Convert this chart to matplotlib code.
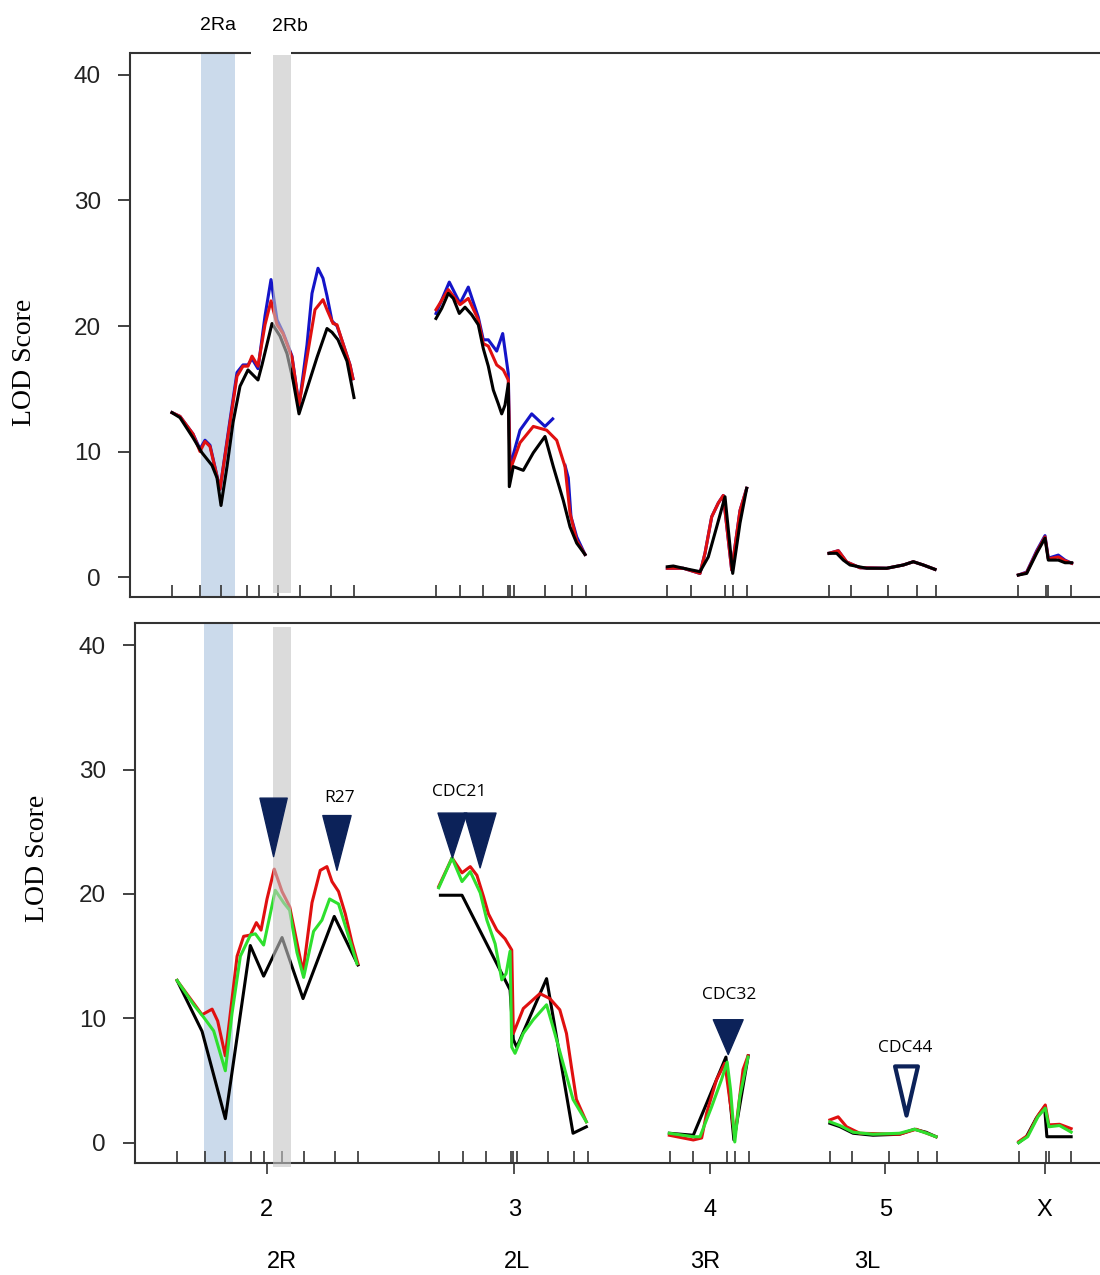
import numpy as np
import matplotlib
matplotlib.use("Agg")
import matplotlib.pyplot as plt
from matplotlib.patches import Polygon
import matplotlib.transforms as mtransforms

nan = np.nan

# marker positions along the map (same markers in both panels)
markers = [172.3, 200.3, 220.7, 247, 259.3, 277.7, 300, 331, 354,
           436, 459.7, 482.7, 507.5, 509.8, 513.5, 545, 571.7, 585.7,
           667.3, 690.7, 725, 732.7, 746.7,
           829, 850.7, 887.7, 917.3, 935.7,
           1018.3, 1045.7, 1048.3, 1071]
chrom_pos = [262.3, 511.4, 708.4, 884.1, 1044.4]
chrom_labels = ['2', '3', '4', '5', 'X']
arm_pos = [278, 513.5, 703.5, 866]
arm_labels = ['2R', '2L', '3R', '3L']

# ---- top panel: LOD curves (nan = break between chromosomes)
top_blue_x = [172, 180, 193, 200, 205, 210, 220, 230, 237, 243, 248, 252, 258, 265, 271, 277, 283, 292, 299, 307, 312, 318, 323, 327, 332, 337, 343, 350, 353, nan,
              436, 449.3, 460, 468.3, 478.3, 483.3, 488.3, 496.7, 502.7, 508.3, 510, 520, 531.7, 545, 552.7, nan,
              565, 568.3, 571, 576.7, 585, nan,
              667.3, 683.3, 700, 705, 711.7, 718.3, 723.3, 731.7, 740, 746.7, nan,
              829, 838.3, 846.7, 860, 886.7, 903.3, 913.3, 923.3, 935, nan,
              1018.3, 1026.7, 1036.7, 1045, 1048.3, 1058.3, 1065, 1071.7]
top_blue_y = [13.1, 12.8, 11.4, 10.2, 10.9, 10.5, 7.0, 12.5, 16.3, 16.9, 16.9, 17.4, 16.6, 20.8, 23.7, 20.5, 19.5, 17.6, 13.6, 18.5, 22.6, 24.6, 23.8, 22.4, 20.4, 20.0, 18.6, 16.9, 15.8, nan,
              21.0, 23.5, 21.8, 23.1, 20.7, 18.9, 18.9, 18.0, 19.4, 16.2, 8.8, 11.7, 13.0, 12.0, 12.6, nan,
              8.9, 7.9, 4.8, 3.2, 1.8, nan,
              0.7, 0.7, 0.29, 1.9, 4.8, 5.9, 6.5, 0.56, 5.3, 7.07, nan,
              1.89, 2.1, 1.2, 0.74, 0.7, 0.96, 1.22, 0.96, 0.61, nan,
              0.16, 0.4, 2.1, 3.3, 1.5, 1.75, 1.35, 1.1]
top_red_x = [172, 180, 193, 200, 205, 210, 220, 230, 237, 243, 248, 252, 258, 265, 271, 277, 283, 292, 299, 307, 315, 323, 327, 333, 337, 343, 350, 353, nan,
             436, 448.3, 460, 468.3, 478.3, 483.3, 488.3, 496.7, 503.3, 508.3, 510, 520, 533.3, 546.7, 556.7, 565, 570, 576.7, 585, nan,
             667.3, 683.3, 700, 705, 711.7, 718.3, 723.3, 731.7, 740, 746.7, nan,
             829, 838.3, 846.7, 860, 886.7, 903.3, 913.3, 923.3, 935, nan,
             1018.3, 1026.7, 1036.7, 1045, 1048.3, 1058.3, 1065, 1071.7]
top_red_y = [13.1, 12.8, 11.4, 10.0, 10.8, 10.4, 7.0, 12.3, 16.0, 16.8, 16.8, 17.6, 16.8, 20.1, 22.0, 20.1, 19.4, 17.5, 13.7, 17.5, 21.3, 22.1, 21.3, 20.2, 20.1, 18.6, 16.9, 15.8, nan,
             21.3, 22.9, 21.7, 22.2, 20.5, 18.6, 18.4, 16.9, 16.5, 15.7, 8.5, 10.7, 12.0, 11.7, 10.9, 8.8, 5.1, 2.9, 1.8, nan,
             0.7, 0.7, 0.29, 1.9, 4.8, 5.9, 6.5, 0.56, 5.3, 7.07, nan,
             1.89, 2.1, 1.2, 0.74, 0.7, 0.96, 1.22, 0.96, 0.61, nan,
             0.16, 0.35, 2.0, 3.2, 1.45, 1.6, 1.3, 1.1]
top_black_x = [172, 180, 193, 202, 212, 217, 221, 227, 233, 240, 248, 258, 262, 272, 280, 287, 293, 299, 307, 317, 327, 332, 338, 347, 354, nan,
               436, 441.7, 448.3, 453.3, 459.3, 465, 471.7, 478.3, 483.3, 488.3, 493.3, 498.3, 501.7, 505, 508.3, 509.3, 513.3, 523.3, 533.3, 545, 553.3, 563.3, 570, 576.7, 585, nan,
               667.3, 673.3, 683.3, 700, 708.3, 716.7, 725, 732.7, 740, 746.7, nan,
               829, 836.7, 843.3, 850, 866.7, 886.7, 903.3, 913.3, 923.3, 935, nan,
               1018.3, 1026.7, 1036.7, 1045, 1048.3, 1058.3, 1065, 1071.7]
top_black_y = [13.1, 12.7, 11.1, 9.9, 8.9, 7.9, 5.7, 8.8, 12.3, 15.2, 16.5, 15.7, 16.9, 20.2, 19.2, 17.8, 15.7, 13.0, 15.0, 17.5, 19.8, 19.5, 18.9, 17.2, 14.3, nan,
               20.6, 21.4, 22.6, 22.2, 21.0, 21.5, 20.9, 20.1, 18.2, 16.8, 14.9, 13.8, 13.0, 13.7, 15.4, 7.2, 8.8, 8.5, 9.9, 11.2, 8.8, 6.1, 4.0, 2.7, 1.8, nan,
               0.82, 0.88, 0.70, 0.43, 1.6, 4.0, 6.4, 0.29, 4.3, 7.07, nan,
               1.89, 1.89, 1.35, 0.96, 0.70, 0.70, 0.96, 1.22, 0.96, 0.61, nan,
               0.16, 0.29, 1.9, 3.1, 1.35, 1.35, 1.14, 1.14]

# ---- bottom panel
bot_black_x = [172.3, 197.4, 220.8, 245.9, 259.3, 277.8, 298.9, 330.3, 354.1, nan,
               437, 458.7, 507, 510.3, 513.7, 543.7, 570.3, 583.7, nan,
               667.1, 691.2, 724, 732, 746.4, nan,
               828.5, 838.5, 851.8, 871.8, 898.5, 913.5, 925.2, 935.2, nan,
               1018.3, 1026, 1036, 1044.3, 1046.6, 1071]
bot_black_y = [13.05, 8.97, 1.95, 15.86, 13.4, 16.5, 11.6, 18.2, 14.3, nan,
               19.9, 19.9, 12.3, 8.3, 7.7, 13.2, 0.78, 1.3, nan,
               0.78, 0.62, 6.9, 0.24, 7.0, nan,
               1.58, 1.31, 0.78, 0.62, 0.7, 1.1, 0.86, 0.5, nan,
               0.03, 0.5, 2.0, 2.9, 0.5, 0.5]
bot_red_x = [172.3, 197.4, 207.5, 213.1, 220.8, 225.8, 232.6, 239.2, 246.0, 252.0, 256.7, 262.7, 270.0, 277.8, 285.4, 292.8, 298.9, 307.9, 316.2, 322.9, 328.0, 334.6, 341.4, 348.1, 354.1, nan,
             435.3, 448.7, 458.7, 467, 473.7, 480.3, 485.3, 493.7, 502, 508.7, 510.3, 520.3, 537, 547, 557, 563.7, 568.7, 573.7, 583.7, nan,
             667.1, 691.2, 699.6, 704.6, 714.6, 722.9, 732.9, 741.2, 746.2, nan,
             828.5, 836.8, 845.2, 858.5, 898.5, 915.2, 935.2, nan,
             1018.3, 1027.3, 1037.6, 1045, 1048.6, 1059.3, 1071]
bot_red_y = [13.05, 10.3, 10.75, 9.8, 7.0, 10.4, 15.0, 16.6, 16.7, 17.7, 17.1, 19.6, 22.0, 20.2, 19.0, 16.1, 13.7, 19.3, 21.9, 22.2, 21.0, 20.2, 18.4, 16.1, 14.4, nan,
             20.6, 22.9, 21.7, 22.2, 21.5, 19.8, 18.4, 17.1, 16.4, 15.5, 8.8, 10.8, 12.0, 11.6, 10.7, 8.8, 6.1, 3.5, 1.7, nan,
             0.62, 0.24, 0.4, 2.4, 5.1, 6.4, 0.5, 5.9, 7.0, nan,
             1.85, 2.1, 1.3, 0.78, 0.7, 1.1, 0.5, nan,
             0.11, 0.6, 2.2, 3.05, 1.45, 1.5, 1.15]
bot_green_x = [172.3, 189.0, 199.0, 209.1, 220.8, 227.5, 235.9, 246.0, 251.0, 259.3, 271.0, 279.4, 285.4, 292.8, 299.5, 309.5, 317.9, 325.6, 334.6, 343.1, 353.1, nan,
               435.3, 448.7, 458.7, 467, 477, 483.7, 492, 498.7, 503, 507, 508.7, 512, 520.3, 530.3, 543.7, 552, 562, 570.3, 583.7, nan,
               667.1, 691.2, 697.9, 709.6, 719.6, 725.2, 728.6, 732.9, 737.9, 746.2, nan,
               828.5, 838.5, 851.8, 871.8, 898.5, 913.5, 925.2, 935.2, nan,
               1018.3, 1027.3, 1037.6, 1045, 1048.6, 1059.3, 1071]
bot_green_y = [13.05, 11.1, 10.1, 9.0, 5.8, 10.4, 15.0, 16.7, 16.8, 15.9, 20.3, 19.3, 18.7, 15.3, 13.3, 17.0, 17.9, 19.6, 19.2, 17.0, 14.4, nan,
               20.5, 22.9, 21.0, 21.8, 20.1, 17.9, 16.0, 13.1, 13.6, 15.4, 7.7, 7.2, 8.8, 9.9, 11.1, 8.8, 5.9, 3.5, 1.7, nan,
               0.78, 0.5, 0.5, 2.9, 5.1, 6.5, 4.3, 0.08, 3.7, 6.9, nan,
               1.7, 1.4, 0.86, 0.7, 0.78, 1.1, 0.8, 0.5, nan,
               0.03, 0.5, 2.1, 2.8, 1.3, 1.4, 0.87]

# candidate gene arrowheads: tip x, tip y, top y, half width, filled
arrow_tip_x = [269.3, 333.0, 449.1, 476.9, 726.3, 905.5]
arrow_tip_y = [23.0, 21.9, 22.9, 22.1, 7.1, 1.9]
arrow_top_y = [27.7, 26.3, 26.5, 26.5, 9.9, 6.3]
arrow_half_w = [13.7, 14.2, 14.5, 16.0, 15.0, 14.0]
arrow_filled = [True, True, True, True, True, False]
gene_labels = ['R27', 'CDC21', 'CDC32', 'CDC44']
gene_x = [335.6, 456.1, 727.3, 904.5]
gene_y = [27.75, 28.2, 11.9, 7.6]

navy = '#0c2259'
spine_col = '#333333'
sans = ['Liberation Sans', 'DejaVu Sans']
narrow = ['Liberation Sans Narrow', 'Liberation Sans', 'DejaVu Sans']

fig = plt.figure(figsize=(11, 12.75), dpi=100)
ax1 = fig.add_axes([130 / 1100, 1 - 597 / 1275, 970 / 1100, 544 / 1275])
ax2 = fig.add_axes([135 / 1100, 1 - 1163 / 1275, 965 / 1100, 540 / 1275])

lw = 2.2
ax1.plot(top_blue_x, top_blue_y, color='#1414c8', lw=lw, zorder=3)
ax1.plot(top_red_x, top_red_y, color='#e01010', lw=lw, zorder=4)
ax1.plot(top_black_x, top_black_y, color='black', lw=lw, zorder=5)

ax2.plot(bot_black_x, bot_black_y, color='black', lw=lw, zorder=3)
ax2.plot(bot_red_x, bot_red_y, color='#e01010', lw=lw, zorder=4)
ax2.plot(bot_green_x, bot_green_y, color='#2ee02e', lw=lw, zorder=5)

# shaded regions 2Ra (behind the curves) / 2Rb (over them, semi-transparent)
ax1.axvspan(201, 235, ymin=0, ymax=1, color='#cbdaeb', lw=0, zorder=1)
ax1.axvspan(273, 291, ymin=0.007, ymax=0.996, color='#c4c4c4', alpha=0.6, lw=0, zorder=6)
ax2.axvspan(199, 229, ymin=0, ymax=1, color='#cbdaeb', lw=0, zorder=1)
ax2.axvspan(269, 287, ymin=-0.008, ymax=0.993, color='#c4c4c4', alpha=0.6, lw=0, zorder=6, clip_on=False)

for ax, ylo, yhi in [(ax1, -1.59, 41.75), (ax2, -1.61, 41.77)]:
    ax.set_xlim(130, 1100)
    ax.set_ylim(ylo, yhi)
    ax.set_yticks([0, 10, 20, 30, 40])
    ax.tick_params(axis='y', direction='out', length=9, width=1.3, pad=12,
                   labelsize=17.5, labelcolor='#222222', color=spine_col)
    for lab in ax.get_yticklabels():
        lab.set_family(sans)
    ax.set_xticks(markers, minor=True)
    ax.tick_params(axis='x', which='minor', direction='in', length=9, width=1.2, color=spine_col)
    ax.spines['right'].set_visible(False)
    for s in ['left', 'bottom', 'top']:
        ax.spines[s].set_color(spine_col)
        ax.spines[s].set_linewidth(1.5)

ax1.set_xticks([])
ax1.set_xticks(markers, minor=True)
ax1.spines['top'].set_visible(False)
trans1 = mtransforms.blended_transform_factory(ax1.transData, ax1.transAxes)
ax1.hlines([1, 1], [130, 291], [251, 1100], color=spine_col, lw=1.5,
           transform=trans1, clip_on=False)
ax1.text(218, 1.051, '2Ra', transform=trans1, ha='center', va='center', fontsize=14, family=sans)
ax1.text(290, 1.048, '2Rb', transform=trans1, ha='center', va='center', fontsize=14, family=sans)

ax2.set_xticks(chrom_pos)
ax2.set_xticklabels(chrom_labels)
ax2.tick_params(axis='x', which='major', direction='out', length=8, width=1.2, pad=18,
                labelsize=17, color=spine_col)
for lab in ax2.get_xticklabels():
    lab.set_family(narrow)
trans2 = mtransforms.blended_transform_factory(ax2.transData, ax2.transAxes)
for x, t in zip(arm_pos, arm_labels):
    ax2.text(x, -0.183, t, transform=trans2, ha='center', va='center', fontsize=17, family=narrow)

# arrowheads marking candidate genes
for x, yt, ytop, hw, filled in zip(arrow_tip_x, arrow_tip_y, arrow_top_y, arrow_half_w, arrow_filled):
    pts = [(x - hw, ytop), (x + hw, ytop), (x, yt)]
    if filled:
        tri = Polygon(pts, closed=True, facecolor=navy, edgecolor=navy, lw=1, joinstyle='round', zorder=8)
    else:
        pts = [(x - hw + 2.5, ytop - 0.15), (x + hw - 2.5, ytop - 0.15), (x, yt + 0.3)]
        tri = Polygon(pts, closed=True, facecolor='white', edgecolor=navy, lw=3, joinstyle='round', zorder=8)
    ax2.add_patch(tri)
for x, y, t in zip(gene_x, gene_y, gene_labels):
    ax2.text(x, y, t, ha='center', va='center', fontsize=12.5, family=['Open Sans', 'DejaVu Sans'], zorder=9)

fig.text(25 / 1100, 1 - 362 / 1275, 'LOD Score', rotation=90, ha='center', va='center',
         fontsize=20, family=['Liberation Serif', 'DejaVu Serif'])
fig.text(37 / 1100, 1 - 858 / 1275, 'LOD Score', rotation=90, ha='center', va='center',
         fontsize=20, family=['Liberation Serif', 'DejaVu Serif'])

fig.savefig('out.png', dpi=100)
